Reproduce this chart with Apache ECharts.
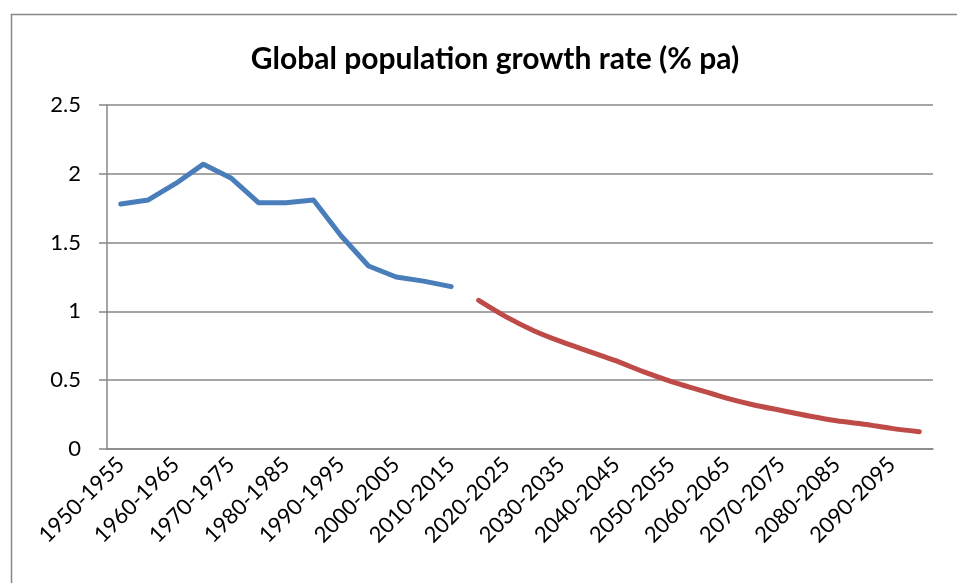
<!DOCTYPE html>
<html>
<head>
<meta charset="utf-8">
<script src="https://cdn.jsdelivr.net/npm/echarts@6/dist/echarts.min.js"></script>
<style>
  html, body { margin: 0; padding: 0; background: #fff; }
  #chart { width: 957px; height: 583px; }
</style>
</head>
<body>
<div id="chart"></div>
<script>
const periods = [];
for (let y = 1950; y <= 2095; y += 5) periods.push(y + "-" + (y + 5));

// estimates 1950-1955 .. 2010-2015
const historic = [1.78, 1.81, 1.93, 2.07, 1.97, 1.79, 1.79, 1.81, 1.55, 1.33, 1.25, 1.22, 1.18];
// projections 2015-2020 .. 2095-2100
const projected = [1.08, 0.96, 0.86, 0.78, 0.71, 0.64, 0.56, 0.49, 0.43, 0.37, 0.32, 0.28, 0.24, 0.205, 0.18, 0.15, 0.125];

const yTicks = { min: 0, max: 2.5, step: 0.5 };

const pad = (arr, before, total) => {
  const out = new Array(before).fill(null).concat(arr);
  while (out.length < total) out.push(null);
  return out;
};

const chart = echarts.init(document.getElementById("chart"));
const font = "Lato, 'Open Sans', sans-serif";
const grey = "#878787";

chart.setOption({
  animation: false,
  title: {
    text: "Global population growth rate (% pa)",
    left: 490,
    textAlign: "center",
    top: 39,
    textStyle: { fontFamily: font, fontWeight: "bold", fontSize: 30, color: "#000" }
  },
  graphic: [{
    type: "rect",
    left: 9, top: 12,
    shape: { width: 1000, height: 1000 },
    style: { fill: "none", stroke: grey, lineWidth: 1.5 },
    silent: true
  }],
  grid: { left: 107, right: 24, top: 105, bottom: 134 },
  xAxis: {
    type: "category",
    data: periods,
    boundaryGap: true,
    axisLine: { lineStyle: { color: grey, width: 1.5 } },
    axisTick: { interval: 0, length: 7, lineStyle: { color: grey, width: 1.5 } },
    axisLabel: {
      interval: 1,
      rotate: 45,
      margin: 12,
      fontFamily: font,
      fontSize: 22,
      color: "#000"
    }
  },
  yAxis: {
    type: "value",
    min: yTicks.min,
    max: yTicks.max,
    interval: yTicks.step,
    axisLine: { show: true, lineStyle: { color: grey, width: 1.5 } },
    axisTick: { show: true, length: 8, lineStyle: { color: grey, width: 1.5 } },
    axisLabel: { margin: 26, fontFamily: font, fontSize: 22, color: "#000" },
    splitLine: { lineStyle: { color: grey, width: 1.5 } }
  },
  series: [
    {
      type: "line",
      data: pad(historic, 0, periods.length),
      showSymbol: false,
      lineStyle: { color: "#4a7ebb", width: 5, cap: "round", join: "round" },
      itemStyle: { color: "#4a7ebb" }
    },
    {
      type: "line",
      data: pad(projected, historic.length, periods.length),
      showSymbol: false,
      smooth: 0.3,
      lineStyle: { color: "#be4b48", width: 5, cap: "round", join: "round" },
      itemStyle: { color: "#be4b48" }
    }
  ]
});
</script>
</body>
</html>
